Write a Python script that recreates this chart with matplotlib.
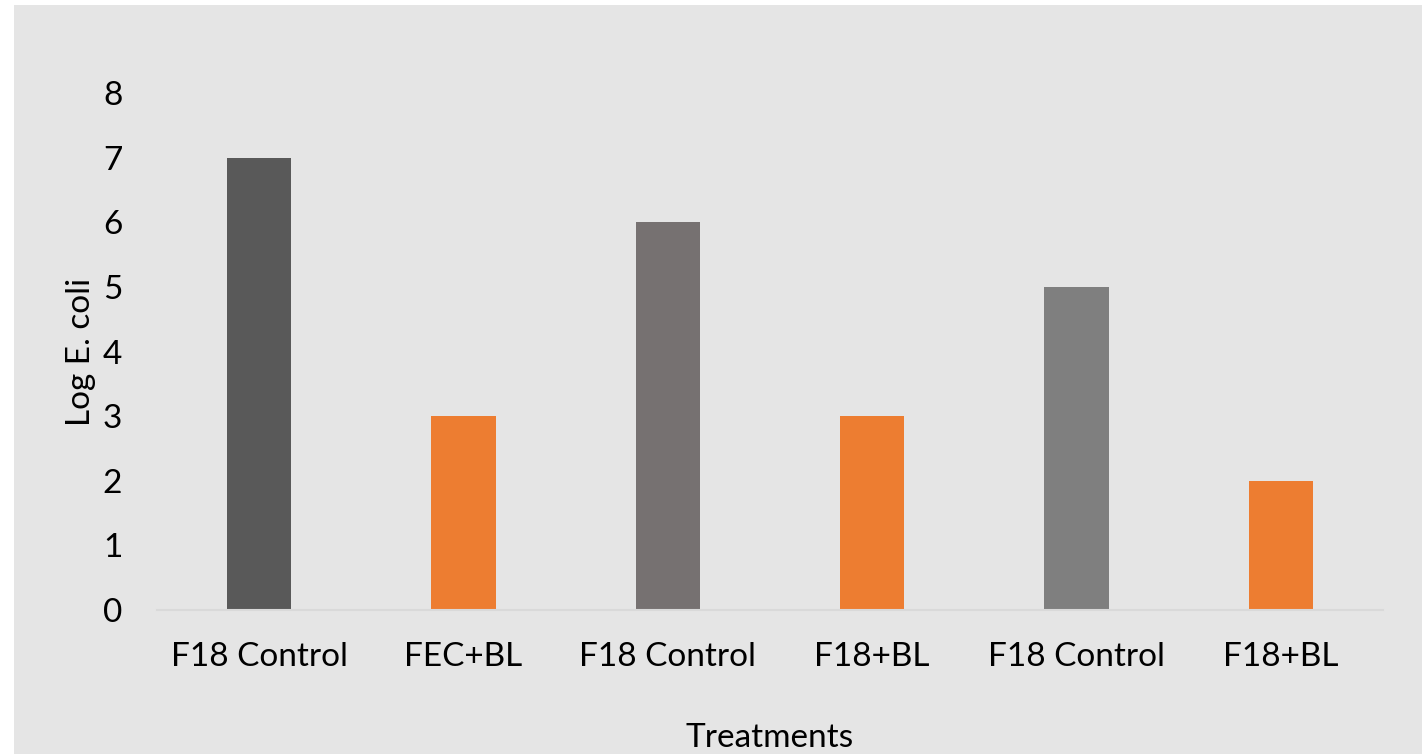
import matplotlib
matplotlib.use("Agg")
import matplotlib.pyplot as plt
from matplotlib.patches import Rectangle

# Log E. coli counts per treatment
treatments = ["F18 Control", "FEC+BL", "F18 Control", "F18+BL", "F18 Control", "F18+BL"]
log_ecoli = [7, 3, 6, 3, 5, 2]
bar_colors = ["#595959", "#ED7D31", "#767171", "#ED7D31", "#7F7F7F", "#ED7D31"]

plt.rcParams["font.family"] = ["Lato", "DejaVu Sans"]

fig = plt.figure(figsize=(14.25, 7.54), dpi=100)
fig.patch.set_facecolor("white")
# grey chart area, slightly inset from the top/left/right edges
bg = Rectangle((14 / 1425, 0), 1408 / 1425, 749 / 754,
               transform=fig.transFigure, facecolor="#E5E5E5",
               edgecolor="none", zorder=-10)
fig.patches.append(bg)

ax = fig.add_axes([157 / 1425, (754 - 610) / 754, 1226 / 1425, 517 / 754])
ax.set_facecolor("none")
ax.set_zorder(5)

x = range(len(treatments))
ax.bar(x, log_ecoli, width=0.315, color=bar_colors, zorder=2)

ax.set_xlim(-0.5, len(treatments) - 0.5)
ax.set_ylim(0, 8)
ax.set_yticks(range(0, 9))
ax.set_xticks(list(x))
ax.set_xticklabels(treatments)

for s in ["top", "right", "left"]:
    ax.spines[s].set_visible(False)
ax.spines["bottom"].set_color("#D9D9D9")
ax.spines["bottom"].set_linewidth(1.5)

ax.tick_params(axis="both", length=0, labelsize=24, labelcolor="black")
ax.tick_params(axis="y", pad=25)
ax.tick_params(axis="x", pad=23)

ax.set_xlabel("Treatments", fontsize=24, labelpad=37)
ax.set_ylabel("Log E. coli", fontsize=24, labelpad=5)

fig.savefig("out.png", dpi=100)
